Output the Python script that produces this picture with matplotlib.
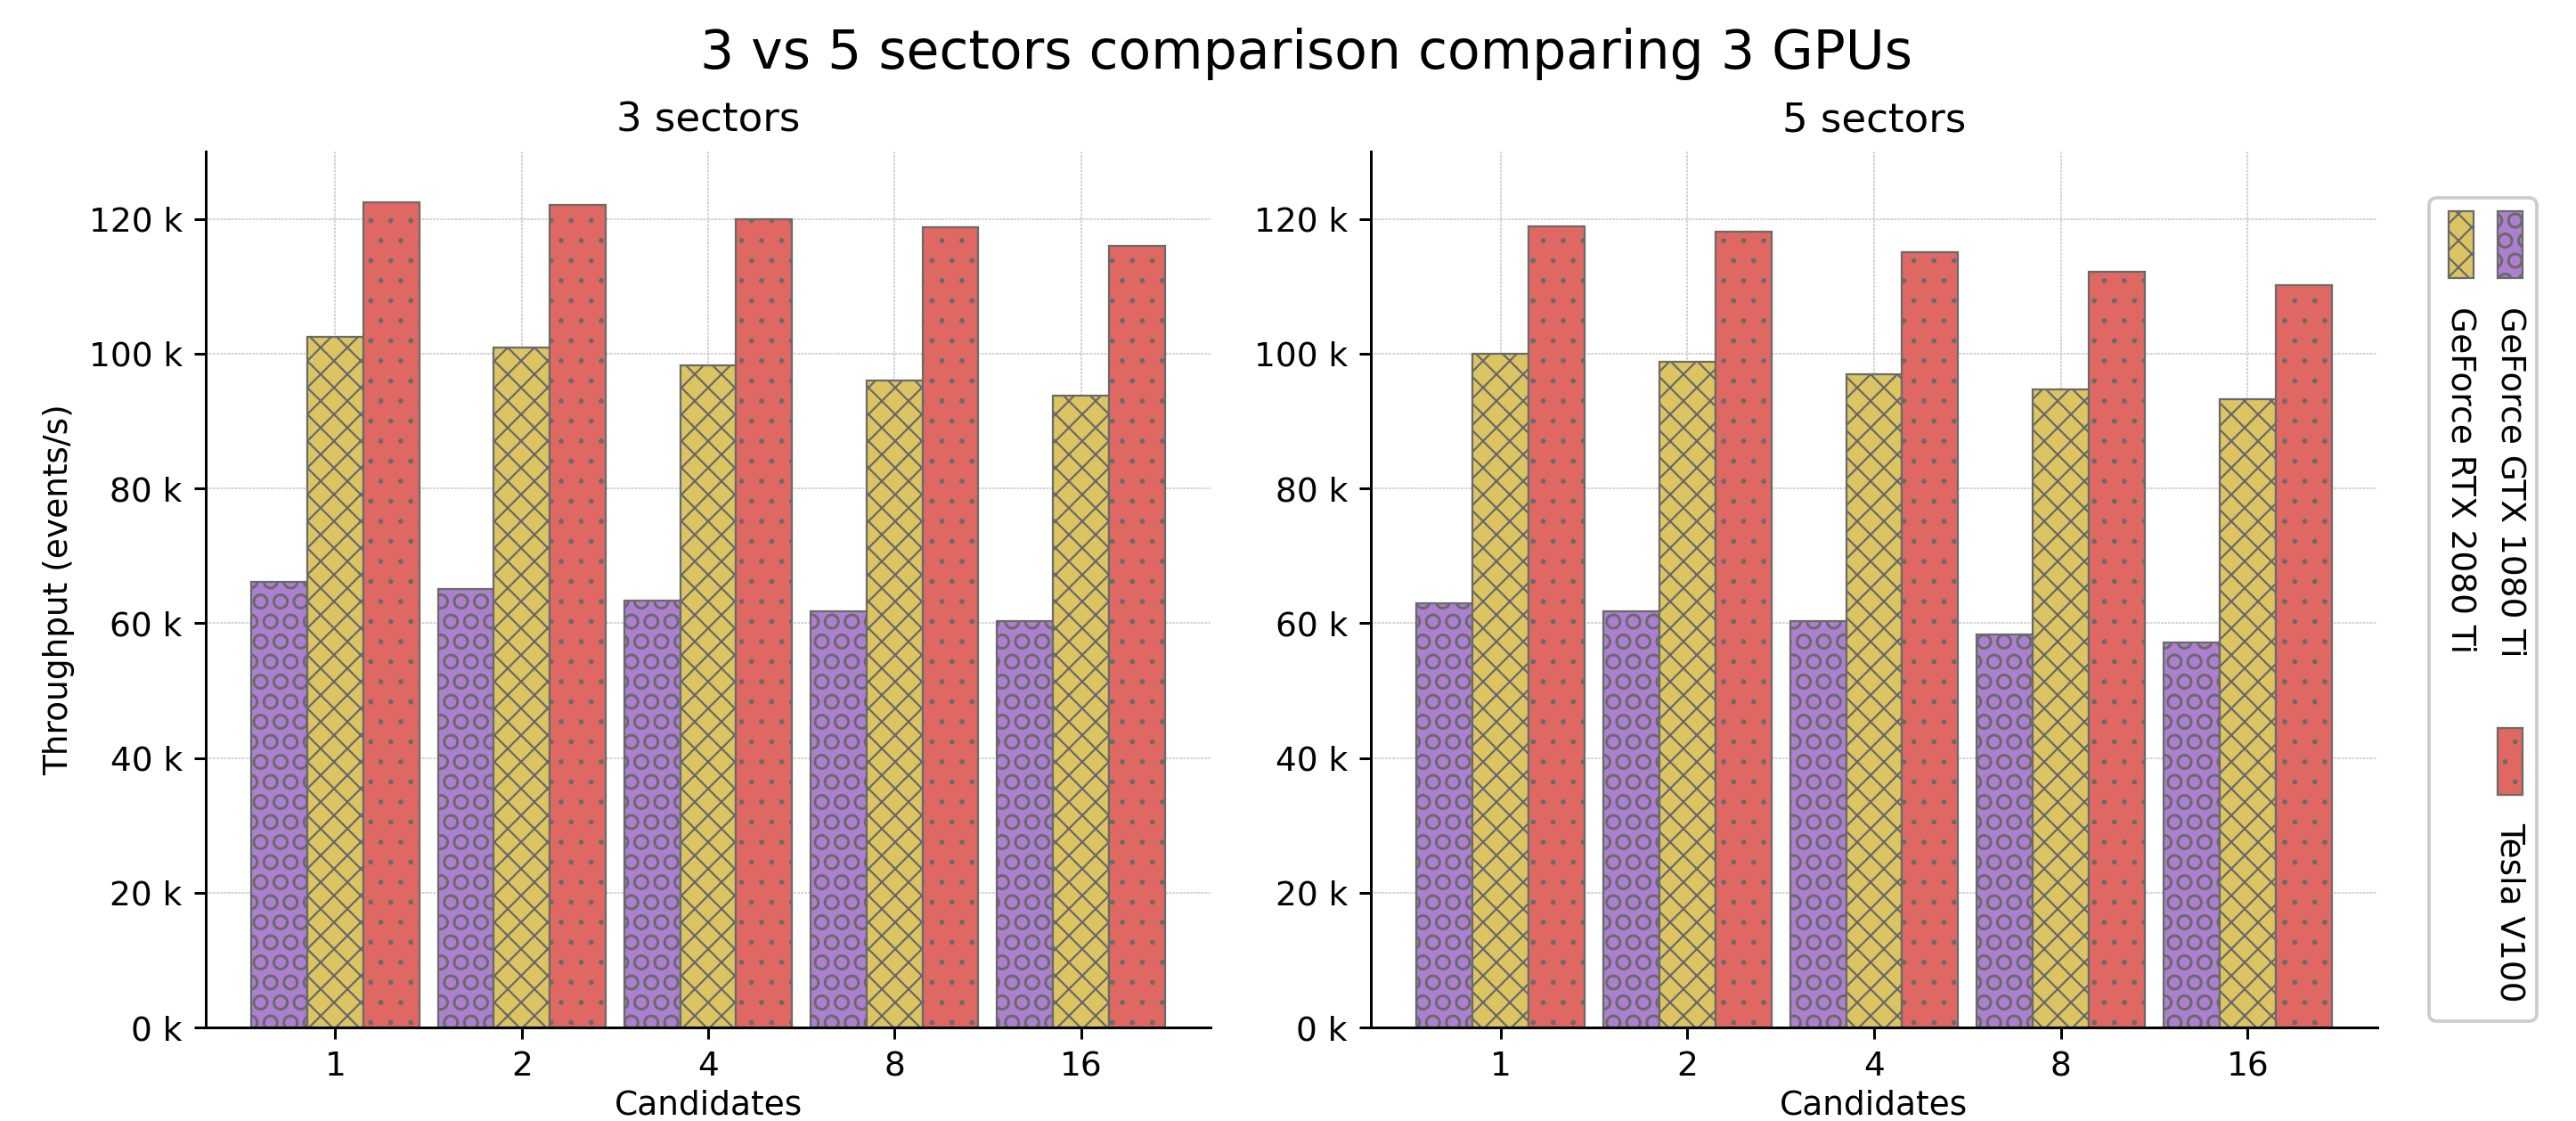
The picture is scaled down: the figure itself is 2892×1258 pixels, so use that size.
import numpy as np
import matplotlib
matplotlib.use("Agg")
import matplotlib.pyplot as plt
from matplotlib.patches import Rectangle, FancyBboxPatch
from matplotlib.ticker import FuncFormatter

# Candidates per event on the x axis
candidates = ["1", "2", "4", "8", "16"]
gpus = ["GeForce GTX 1080 Ti", "GeForce RTX 2080 Ti", "Tesla V100"]
colors = ["#ad7fd0", "#ddc462", "#e06862"]
hatches = ["OO", "xxx", ".."]
hatch_widths = [0.6, 0.6, 0.3]

# Throughput in events/s, 3 sectors
s3_gtx1080 = [66100, 65100, 63400, 61700, 60300]
s3_rtx2080 = [102500, 100900, 98200, 96000, 93700]
s3_v100 = [122500, 122000, 120000, 118700, 116000]

# Throughput in events/s, 5 sectors
s5_gtx1080 = [62900, 61700, 60300, 58300, 57100]
s5_rtx2080 = [100000, 98800, 96900, 94700, 93200]
s5_v100 = [118900, 118100, 115100, 112100, 110100]

panels = [
    ("3 sectors", [s3_gtx1080, s3_rtx2080, s3_v100]),
    ("5 sectors", [s5_gtx1080, s5_rtx2080, s5_v100]),
]

DPI = 270
W, H = 2892, 1258
edge = "#6a6a6a"

fig = plt.figure(figsize=(W / DPI, H / DPI), dpi=DPI)

# axes boxes in pixels: left, right, top, bottom
boxes = [(231, 1359, 170, 1153), (1539, 2669, 170, 1153)]

x = np.arange(len(candidates))
width = 0.3

for (title, series), (l, r, t, b) in zip(panels, boxes):
    ax = fig.add_axes([l / W, 1 - b / H, (r - l) / W, (b - t) / H])
    for i, vals in enumerate(series):
        with plt.rc_context({"hatch.linewidth": hatch_widths[i]}):
            ax.bar(x + (i - 1) * width, vals, width, color=colors[i],
                   edgecolor=edge, linewidth=0.6, hatch=hatches[i])
    ax.set_xticks(x)
    ax.set_xticklabels(candidates)
    ax.set_ylim(0, 130000)
    ax.yaxis.set_major_formatter(FuncFormatter(lambda v, p: f"{v / 1000:.0f} k"))
    ax.set_xlabel("Candidates", labelpad=2)
    ax.set_title(title, fontsize=12)
    ax.spines["top"].set_visible(False)
    ax.spines["right"].set_visible(False)
    ax.set_axisbelow(True)
    ax.grid(True, color="#c4c4c4", linewidth=0.4, linestyle=(0, (1.8, 0.9)))
    if title == "3 sectors":
        ax.set_ylabel("Throughput (events/s)")

fig.suptitle("3 vs 5 sectors comparison comparing 3 GPUs", fontsize=16,
             x=0.507, y=1 - 61 / H, va="center")

# Legend drawn sideways, in an overlay axes whose data units are pixels
lx0, lx1, ly0, ly1 = 2715, 2865, 205, 1165
lax = fig.add_axes([lx0 / W, 1 - ly1 / H, (lx1 - lx0) / W, (ly1 - ly0) / H])
lax.set_xlim(lx0, lx1)
lax.set_ylim(ly1, ly0)
lax.axis("off")

lax.add_patch(FancyBboxPatch((2727, 222), 121, 924,
                             boxstyle="round,pad=0,rounding_size=9",
                             facecolor="white", edgecolor="0.8", linewidth=1.0))

entries = [(2804, 237, 2818, 344), (2749, 237, 2763, 344), (2804, 817, 2818, 923)]
for (px, py, tx, ty), name, c, h, hw in zip(entries, gpus, colors, hatches, hatch_widths):
    with plt.rc_context({"hatch.linewidth": hw}):
        lax.add_patch(Rectangle((px, py), 28, 75, facecolor=c, edgecolor=edge,
                                linewidth=0.6, hatch=h))
    lax.text(tx, ty, name, rotation=270, ha="center", va="top", fontsize=10)

fig.savefig("out.png", dpi=DPI)
